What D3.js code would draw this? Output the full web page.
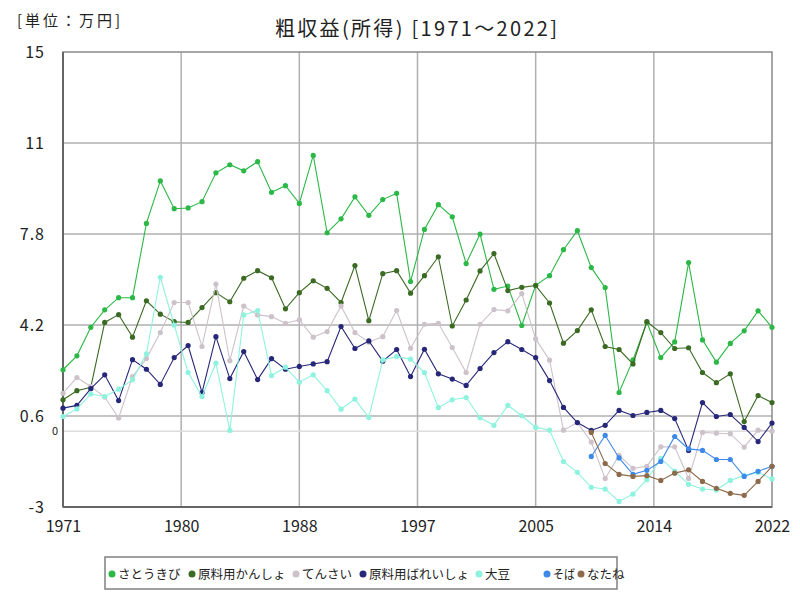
<!DOCTYPE html>
<html><head><meta charset="utf-8">
<script src="https://cdn.jsdelivr.net/npm/d3@7"></script>
<style>body{margin:0;background:#fff}svg{display:block}text{font-family:"Noto Sans CJK JP","Noto Sans",sans-serif}</style>
</head><body><svg id="c" width="800" height="600"></svg>
<script>
const years = d3.range(1971, 2023);
const seriesNames = ["さとうきび","原料用かんしょ","てんさい","原料用ばれいしょ","大豆","そば","なたね"];
const seriesColors = ["#2bb846","#3b6b22","#cdc2ca","#27277a","#8ef3de","#3d8aea","#8c6a4a"];
const sugarcane = [2.43,2.98,4.11,4.8,5.28,5.28,8.22,9.9,8.8,8.83,9.08,10.22,10.54,10.3,10.66,9.45,9.71,9.01,10.91,7.85,8.4,9.27,8.54,9.16,9.41,5.92,7.98,8.96,8.48,6.63,7.8,5.61,5.74,4.18,5.77,6.15,7.18,7.93,6.47,5.68,1.53,2.82,4.31,2.91,3.53,6.67,3.61,2.73,3.47,3.97,4.76,4.11];
const sweetPotato = [1.24,1.6,1.74,4.3,4.61,3.72,5.16,4.63,4.33,4.3,4.89,5.48,5.12,6.05,6.35,6.07,4.84,5.48,5.95,5.65,5.09,6.55,4.37,6.23,6.35,5.46,6.15,6.9,4.16,5.19,6.34,7.02,5.56,5.69,5.76,5.07,3.48,3.98,4.8,3.35,3.23,2.66,4.33,3.9,3.27,3.3,2.32,1.92,2.27,0.38,1.41,1.13];
const sugarBeet = [1.5,2.12,1.77,1.35,0.52,2.16,2.87,3.9,5.09,5.09,3.35,5.82,2.79,4.95,4.6,4.53,4.27,4.4,3.72,3.94,4.95,3.9,3.52,3.74,4.77,3.28,4.23,4.27,3.31,2.32,4.23,4.81,4.76,5.44,3.65,2.81,0.04,0.34,-0.43,-1.87,-0.96,-1.47,-1.39,-0.62,-0.62,-1.87,-0.05,-0.08,-0.1,-0.63,0.04,0.0];
const potato = [0.91,1.02,1.68,2.23,1.21,2.83,2.45,1.85,2.91,3.39,1.53,3.74,2.08,3.15,2.04,2.87,2.45,2.56,2.66,2.75,4.14,3.27,3.57,2.77,3.23,2.16,3.24,2.27,2.06,1.81,2.48,3.11,3.54,3.23,2.91,2.0,0.94,0.34,0.03,0.23,0.82,0.62,0.74,0.82,0.5,-0.76,1.13,0.58,0.66,0.15,-0.41,0.32];
const soybean = [0.58,0.88,1.47,1.37,1.66,2.03,3.06,6.09,4.2,2.32,1.37,2.69,0.03,4.6,4.77,2.2,2.53,1.94,2.23,1.6,0.87,1.27,0.54,2.82,2.95,2.85,2.32,0.94,1.24,1.33,0.53,0.23,1.02,0.61,0.15,0.04,-1.2,-1.63,-2.22,-2.29,-2.78,-2.49,-1.92,-1.08,-1.58,-2.1,-2.29,-2.33,-1.95,-1.75,-1.63,-1.89];
const buckwheatYears = d3.range(2009, 2023);
const buckwheat = [-1.0,-0.17,-1.06,-1.71,-1.55,-1.2,-0.21,-0.7,-0.76,-1.12,-1.12,-1.79,-1.59,-1.39];
const rapeseedYears = d3.range(2009, 2023);
const rapeseed = [-0.05,-1.28,-1.71,-1.79,-1.76,-1.95,-1.66,-1.53,-1.99,-2.26,-2.46,-2.54,-1.99,-1.39];
const yTickValues = [-3,0.6,4.2,7.8,11.4,15];
const yTickLabels = ["-3","0.6","4.2","7.8","11","15"];
const xTickValues = [1971,1979.5,1988,1996.5,2005,2013.5,2022];
const xTickLabels = ["1971","1980","1988","1997","2005","2014","2022"];

const allSeries = [
  {name:seriesNames[0], xs:years, vs:sugarcane},
  {name:seriesNames[1], xs:years, vs:sweetPotato},
  {name:seriesNames[2], xs:years, vs:sugarBeet},
  {name:seriesNames[3], xs:years, vs:potato},
  {name:seriesNames[4], xs:years, vs:soybean},
  {name:seriesNames[5], xs:buckwheatYears, vs:buckwheat},
  {name:seriesNames[6], xs:rapeseedYears, vs:rapeseed}
].map((s,i)=>({...s, color:seriesColors[i], pts:s.xs.map((x,j)=>({x, v:s.vs[j]}))}));

const svg = d3.select("#c");
const L=63, R=772, T=52, B=507;
const x = d3.scaleLinear().domain([1971,2022]).range([L,R]);
const y = d3.scaleLinear().domain([-3,15]).range([B,T]);

const g = svg.append("g");
g.selectAll(".hg").data(yTickValues.slice(1,-1)).join("line")
  .attr("x1",L).attr("x2",R).attr("y1",d=>y(d)).attr("y2",d=>y(d))
  .attr("stroke","#b0b0b0").attr("stroke-width",1.5);
g.selectAll(".vg").data(xTickValues.slice(1,-1)).join("line")
  .attr("y1",T).attr("y2",B).attr("x1",d=>x(d)).attr("x2",d=>x(d))
  .attr("stroke","#b0b0b0").attr("stroke-width",1.5);
g.append("line").attr("x1",L).attr("x2",R).attr("y1",y(0)).attr("y2",y(0))
  .attr("stroke","#dcdcdc").attr("stroke-width",1.5);
g.append("rect").attr("x",L).attr("y",T).attr("width",R-L).attr("height",B-T)
  .attr("fill","none").attr("stroke","#8a8a8a").attr("stroke-width",1.5);
g.append("line").attr("x1",L).attr("x2",L).attr("y1",T).attr("y2",B).attr("stroke","#666").attr("stroke-width",2);
g.append("line").attr("x1",L).attr("x2",R).attr("y1",B).attr("y2",B).attr("stroke","#666").attr("stroke-width",2);

const yAxis = d3.axisLeft(y).tickValues(yTickValues).tickFormat((d,i)=>yTickLabels[i]).tickSize(0).tickPadding(18);
const ya = svg.append("g").attr("transform",`translate(${L},0)`).call(yAxis);
ya.select(".domain").remove();
ya.selectAll("text").attr("font-size",16).attr("fill","#222").attr("font-family","'DejaVu Sans Mono','Noto Sans CJK JP',monospace").attr("letter-spacing","1px");
const xAxis = d3.axisBottom(x).tickValues(xTickValues).tickFormat((d,i)=>xTickLabels[i]).tickSize(0).tickPadding(14);
const xa = svg.append("g").attr("transform",`translate(0,${B})`).call(xAxis);
xa.select(".domain").remove();
xa.selectAll("text").attr("font-size",16).attr("fill","#222");

svg.append("text").attr("x",L-5).attr("y",y(0)+4).attr("text-anchor","end")
  .attr("font-size",11).attr("fill","#222").text("0");

const line = d3.line().x(d=>x(d.x)).y(d=>y(d.v));
const sg = svg.append("g");
allSeries.forEach(s=>{
  sg.append("path").datum(s.pts).attr("d",line).attr("fill","none")
    .attr("stroke",s.color).attr("stroke-width",1.1);
  sg.selectAll(null).data(s.pts).join("circle")
    .attr("cx",d=>x(d.x)).attr("cy",d=>y(d.v)).attr("r",2.6).attr("fill",s.color);
});

svg.append("text").attr("x",275).attr("y",36)
  .attr("font-size",20).attr("fill","#222")
  .attr("textLength",282).attr("lengthAdjust","spacing")
  .text("粗収益(所得) [1971～2022]");
svg.append("text").attr("x",17).attr("y",26).attr("font-size",15).attr("fill","#222")
  .attr("textLength",103).attr("lengthAdjust","spacing").text("[単位：万円]");

const lg = svg.append("g");
lg.append("rect").attr("x",105).attr("y",557).attr("width",512).attr("height",32)
  .attr("fill","#fff").attr("stroke","#808080").attr("stroke-width",1.5);
const legendX = [112,192,296,363,479,547,581];
allSeries.forEach((s,i)=>{
  lg.append("circle").attr("cx",legendX[i]).attr("cy",574).attr("r",3.5).attr("fill",s.color);
  const t = lg.append("text").attr("x",legendX[i]+6).attr("y",579).attr("font-size",12.5).attr("fill","#222").text(s.name);
  if (i === 5) t.attr("textLength",22).attr("lengthAdjust","spacingAndGlyphs");
});
</script></body></html>
